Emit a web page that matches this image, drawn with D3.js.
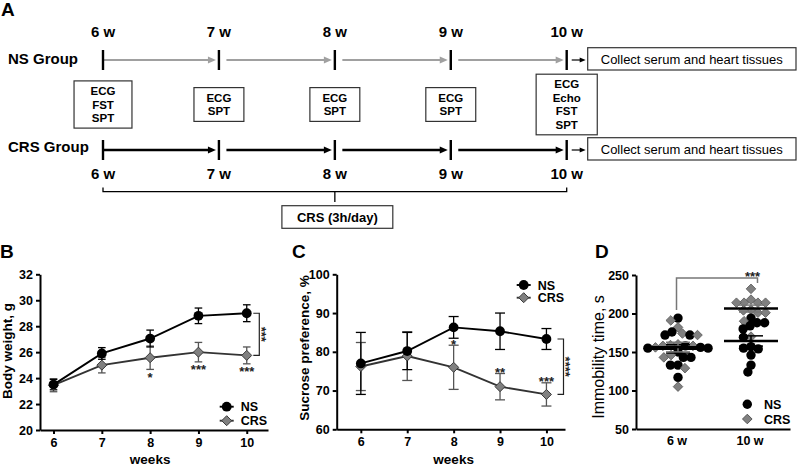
<!DOCTYPE html>
<html><head><meta charset="utf-8">
<script src="https://cdn.jsdelivr.net/npm/d3@7"></script>
<style>
body{margin:0;background:#fff;}
svg{display:block;font-family:"Liberation Sans",Arial,Helvetica,sans-serif;}
</style></head><body>
<svg id="chart" width="800" height="467"></svg>
<script>
// ---------- Panel A: protocol timeline ----------
const timelineWeeks = ["6 w","7 w","8 w","9 w","10 w"];
const groupNames = ["NS Group","CRS Group"];
const weeklyTests = [["ECG","FST","SPT"],["ECG","SPT"],["ECG","SPT"],["ECG","SPT"],["ECG","Echo","FST","SPT"]];
const endpointText = "Collect serum and heart tissues";
const stressText = "CRS (3h/day)";

// ---------- Panel B: body weight ----------
const weeks = [6,7,8,9,10];
const bodyWeightNS = [23.5,25.9,27.05,28.8,29.0];
const bodyWeightNSErr = [0.4,0.45,0.65,0.6,0.65];
const bodyWeightCRS = [23.45,25.0,25.57,26.0,25.75];
const bodyWeightCRSErr = [0.5,0.6,0.9,0.75,0.65];
const bodyWeightStars = ["","","*","***","***"];
const bodyWeightTicks = [20,22,24,26,28,30,32];
const bodyWeightBracket = "***";

// ---------- Panel C: sucrose preference ----------
const sucroseNS = [77.0,80.2,86.3,85.3,83.3];
const sucroseNSErr = [8.0,4.8,2.8,4.7,2.7];
const sucroseCRS = [76.2,78.9,76.0,71.0,69.0];
const sucroseCRSErr = [6.2,6.3,5.7,3.4,3.0];
const sucroseStars = ["","","*","**","***"];
const sucroseTicks = [60,70,80,90,100];
const sucroseBracket = "****";

// ---------- Panel D: immobility time ----------
const fstTimes = ["6 w","10 w"];
const immobilityNS6 = [194,176,172,172,158,156,155,155,150,143,143,133,133,117];
const immobilityCRS6 = [191,182,174,172,160,159,158,158,156,146,143,129,105];
const immobilityNS10 = [194,188,188,184,180,169,157,155,154,146,133,124];
const immobilityCRS10 = [232,218,214,214,214,214,205,204,201,201,190,170];
const immobilityTicks = [50,100,150,200,250];
const immobilityStars = "***";
const seriesNames = ["NS","CRS"];

const svg = d3.select("#chart");
const BOLD = "bold";

function diamondPath(cx, cy, r) {
  return `M${cx},${cy - r}L${cx + r},${cy}L${cx},${cy + r}L${cx - r},${cy}Z`;
}
function panelLabel(txt, x, y) {
  svg.append("text").attr("x", x).attr("y", y).attr("font-size", 19)
    .attr("font-weight", BOLD).text(txt);
}

// ================= PANEL A =================
(function () {
  const A = svg.append("g");
  panelLabel("A", 1, 16);
  const xA = d3.scalePoint().domain(timelineWeeks).range([103, 566.7]);
  const rows = [{name: groupNames[0], y: 60, color: "#a0a0a0", w: 2, labelY: 63.5, wkY: 37},
                {name: groupNames[1], y: 150, color: "#000", w: 2.4, labelY: 152, wkY: 179}];
  rows.forEach(r => {
    A.append("text").attr("x", 8).attr("y", r.labelY).attr("font-size", 15)
      .attr("font-weight", BOLD).text(r.name);
    A.selectAll(null).data(timelineWeeks).join("text")
      .attr("x", d => xA(d)).attr("y", r.wkY).attr("text-anchor", "middle")
      .attr("font-size", 15).attr("font-weight", BOLD).text(d => d);
    for (let i = 0; i < timelineWeeks.length - 1; i++) {
      const x0 = xA(timelineWeeks[i]) + (i === 0 ? 0 : 7.5);
      const x1 = xA(timelineWeeks[i + 1]) - 3;
      A.append("line").attr("x1", x0).attr("x2", x1 - 7).attr("y1", r.y).attr("y2", r.y)
        .attr("stroke", r.color).attr("stroke-width", r.w);
      A.append("path").attr("d", `M${x1},${r.y}L${x1 - 8},${r.y - 3.6}L${x1 - 8},${r.y + 3.6}Z`)
        .attr("fill", r.color);
    }
    A.selectAll(null).data(timelineWeeks).join("line")
      .attr("x1", d => xA(d)).attr("x2", d => xA(d))
      .attr("y1", r.y - 10).attr("y2", r.y + 10)
      .attr("stroke", "#000").attr("stroke-width", 2.4);
    const xe = xA(timelineWeeks[timelineWeeks.length - 1]);
    A.append("line").attr("x1", xe + 5).attr("x2", xe + 14).attr("y1", r.y).attr("y2", r.y)
      .attr("stroke", "#000").attr("stroke-width", 1.2);
    A.append("path").attr("d", `M${xe + 19},${r.y}L${xe + 13},${r.y - 2.6}L${xe + 13},${r.y + 2.6}Z`).attr("fill", "#000");
    A.append("rect").attr("x", 587.7).attr("y", r.y - 12.3).attr("width", 208.3).attr("height", 22.3)
      .attr("fill", "#fff").attr("stroke", "#333").attr("stroke-width", 1.2);
    A.append("text").attr("x", 691.8).attr("y", r.y + 3.6).attr("text-anchor", "middle")
      .attr("font-size", 13).text(endpointText);
  });
  weeklyTests.forEach((lines, i) => {
    const cx = xA(timelineWeeks[i]), cy = 104.5, lh = 13.4;
    const g = A.append("g");
    const t = g.selectAll("text").data(lines).join("text")
      .attr("x", cx).attr("y", (d, j) => cy + (j - (lines.length - 1) / 2) * lh + 4)
      .attr("text-anchor", "middle").attr("font-size", 11.5).attr("font-weight", BOLD).text(d => d);
    let maxW = 0; t.each(function () { maxW = Math.max(maxW, this.getComputedTextLength()); });
    const w = maxW + (lines.length > 2 ? 33 : 25);
    const h = lines.length * lh + 7;
    g.insert("rect", "text").attr("x", cx - w / 2).attr("y", cy - h / 2).attr("width", w).attr("height", h)
      .attr("fill", "#fff").attr("stroke", "#333").attr("stroke-width", 1.2);
  });
  const xs = xA(timelineWeeks[0]), xe = xA(timelineWeeks[4]), xm = xA(timelineWeeks[2]);
  A.append("path").attr("d", `M${xs},187.5V191.7H${xe}V187.5M${xm},191.7V202`)
    .attr("fill", "none").attr("stroke", "#000").attr("stroke-width", 1.3);
  const bg = A.append("g");
  const bt = bg.append("text").attr("x", xm + 2.5).attr("y", 222).attr("text-anchor", "middle")
    .attr("font-size", 13).attr("font-weight", BOLD).text(stressText);
  const bw = bt.node().getComputedTextLength() + 30;
  bg.insert("rect", "text").attr("x", xm + 2.5 - bw / 2).attr("y", 205.7).attr("width", bw).attr("height", 22.6)
    .attr("fill", "#fff").attr("stroke", "#333").attr("stroke-width", 1.2);
})();

// ================= PANELS B & C =================
function linePanel(o) {
  const g = svg.append("g");
  const x = d3.scaleLinear().domain(o.xDom).range(o.xRange);
  const y = d3.scaleLinear().domain(o.yDom).range(o.yRange);
  const xAxis = g.append("g").attr("transform", `translate(0,${o.yRange[0]})`)
    .call(d3.axisBottom(x).tickValues(weeks).tickSize(4).tickSizeOuter(0).tickPadding(o.xPad).tickFormat(d3.format("d")));
  const yAxis = g.append("g").attr("transform", `translate(${o.xRange[0]},0)`)
    .call(d3.axisLeft(y).tickValues(o.yTicks).tickSize(4).tickSizeOuter(0).tickPadding(3));
  [xAxis, yAxis].forEach(a => {
    a.select(".domain").attr("stroke", "#000").attr("stroke-width", 2);
    a.selectAll(".tick line").attr("stroke", "#000").attr("stroke-width", 2);
    a.selectAll(".tick text").attr("font-size", 12.5).attr("font-weight", BOLD).attr("fill", "#000")
      .attr("font-family", "Liberation Sans, Arial, sans-serif");
  });
  g.append("text").attr("transform", `translate(${o.yTitleX},${o.yTitleY}) rotate(-90)`)
    .attr("text-anchor", "middle").attr("font-size", 13.5).attr("font-weight", BOLD).text(o.yTitle);
  g.append("text").attr("x", x(8)).attr("y", 463.5).attr("text-anchor", "middle")
    .attr("font-size", 13.5).attr("font-weight", BOLD).text("weeks");

  const series = [
    {name: seriesNames[1], v: o.crs, e: o.crsErr, col: "#555", line: "#333", type: "d"},
    {name: seriesNames[0], v: o.ns, e: o.nsErr, col: "#000", line: "#000", type: "c"}
  ];
  series.forEach(s => {
    const eb = g.append("g").attr("stroke", s.col).attr("stroke-width", 1.3);
    weeks.forEach((w, i) => {
      const cx = x(w), y1 = y(s.v[i] + s.e[i]), y0 = y(s.v[i] - s.e[i]);
      eb.append("line").attr("x1", cx).attr("x2", cx).attr("y1", y1).attr("y2", y0);
      eb.append("line").attr("x1", cx - o.cap).attr("x2", cx + o.cap).attr("y1", y1).attr("y2", y1);
      eb.append("line").attr("x1", cx - o.cap).attr("x2", cx + o.cap).attr("y1", y0).attr("y2", y0);
    });
  });
  const ln = d3.line().x((d, i) => x(weeks[i])).y(d => y(d));
  series.forEach(s => {
    g.append("path").attr("d", ln(s.v)).attr("fill", "none").attr("stroke", s.line).attr("stroke-width", 1.9);
  });
  series.forEach(s => {
    weeks.forEach((w, i) => {
      if (s.type === "c") g.append("circle").attr("cx", x(w)).attr("cy", y(s.v[i])).attr("r", 4.9).attr("fill", "#000");
      else g.append("path").attr("d", diamondPath(x(w), y(s.v[i]), 5)).attr("fill", "#808080").attr("stroke", "#3a3a3a").attr("stroke-width", 1);
    });
  });
  weeks.forEach((w, i) => {
    if (!o.stars[i]) return;
    const yy = o.starsBelow ? y(o.crs[i] - o.crsErr[i]) + 12.5 : y(o.crs[i] + o.crsErr[i]) + 3.5;
    g.append("text").attr("x", x(w)).attr("y", yy).attr("text-anchor", "middle")
      .attr("font-size", 13).attr("font-weight", BOLD).attr("fill", "#222").text(o.stars[i]);
  });
  const yt = y(o.ns[4]), yb = y(o.crs[4]);
  g.append("path").attr("d", `M${o.brX - 6},${yt}H${o.brX}V${yb}H${o.brX - 6}`)
    .attr("fill", "none").attr("stroke", "#222").attr("stroke-width", 1.2);
  g.append("text").attr("transform", `translate(${o.brX - 2.5},${(yt + yb) / 2}) rotate(90)`)
    .attr("text-anchor", "middle").attr("font-size", 13).attr("font-weight", BOLD).attr("fill", "#222").text(o.brText);
  series.slice().reverse().forEach((s, k) => {
    const ly = o.legY + k * o.legDy;
    g.append("line").attr("x1", o.legX - 7).attr("x2", o.legX + 7).attr("y1", ly).attr("y2", ly)
      .attr("stroke", s.line).attr("stroke-width", 1.9);
    if (s.type === "c") g.append("circle").attr("cx", o.legX).attr("cy", ly).attr("r", 4.9).attr("fill", "#000");
    else g.append("path").attr("d", diamondPath(o.legX, ly, 5)).attr("fill", "#808080").attr("stroke", "#3a3a3a");
    g.append("text").attr("x", o.legX + 14).attr("y", ly + 4.5).attr("font-size", 12.5).attr("font-weight", BOLD).text(s.name);
  });
}

panelLabel("B", 0, 258);
linePanel({
  xDom: [5.72, 10.44], xRange: [40, 268], yDom: [20, 32], yRange: [430, 274.3], yTicks: bodyWeightTicks,
  xPad: 4, ns: bodyWeightNS, nsErr: bodyWeightNSErr, crs: bodyWeightCRS, crsErr: bodyWeightCRSErr,
  stars: bodyWeightStars, starsBelow: true, cap: 3.8, brX: 259.3, brText: bodyWeightBracket,
  yTitle: "Body weight, g", yTitleX: 11.5, yTitleY: 351, legX: 226.7, legY: 406.7, legDy: 14
});
panelLabel("C", 292, 258);
linePanel({
  xDom: [5.48, 10.4], xRange: [336.7, 565], yDom: [60, 100], yRange: [429.3, 274.3], yTicks: sucroseTicks,
  xPad: 3.5, ns: sucroseNS, nsErr: sucroseNSErr, crs: sucroseCRS, crsErr: sucroseCRSErr,
  stars: sucroseStars, starsBelow: false, cap: 5, brX: 563.5, brText: sucroseBracket,
  yTitle: "Sucrose preference, %", yTitleX: 309, yTitleY: 348, legX: 523.7, legY: 285, legDy: 12.7
});

// ================= PANEL D =================
(function () {
  panelLabel("D", 595, 258);
  const g = svg.append("g");
  const x = d3.scalePoint().domain(fstTimes).range([636, 790]).padding(0.555);
  const y = d3.scaleLinear().domain([50, 250]).range([429, 275]);
  const xAxis = g.append("g").attr("transform", "translate(0,429)")
    .call(d3.axisBottom(x).tickSize(0).tickSizeOuter(0).tickPadding(7));
  const yAxis = g.append("g").attr("transform", "translate(636,0)")
    .call(d3.axisLeft(y).tickValues(immobilityTicks).tickSize(4).tickSizeOuter(0).tickPadding(3));
  [xAxis, yAxis].forEach(a => {
    a.select(".domain").attr("stroke", "#000").attr("stroke-width", 2);
    a.selectAll(".tick line").attr("stroke", "#000").attr("stroke-width", 2);
    a.selectAll(".tick text").attr("font-size", 12.5).attr("font-weight", BOLD).attr("fill", "#000")
      .attr("font-family", "Liberation Sans, Arial, sans-serif");
  });
  g.append("text").attr("transform", "translate(604,357) rotate(-90)").attr("text-anchor", "middle")
    .attr("font-size", 16).text("Immobility time, s");

  const groups = [
    {t: fstTimes[0], sets: [{type: "c", v: immobilityNS6}, {type: "d", v: immobilityCRS6}]},
    {t: fstTimes[1], sets: [{type: "c", v: immobilityNS10}, {type: "d", v: immobilityCRS10}]}
  ];
  const diam = 7.6;
  groups.forEach(gr => {
    const cx = x(gr.t) + 1.5;
    let pts = [];
    gr.sets.forEach(s => s.v.forEach(v => pts.push({type: s.type, v, py: y(v)})));
    pts.sort((a, b) => d3.descending(a.v, b.v));
    const placed = [];
    pts.forEach(p => {
      const blocked = [];
      placed.forEach(q => {
        const dy = Math.abs(q.py - p.py);
        if (dy < diam) { const h = Math.sqrt(diam * diam - dy * dy); blocked.push([q.dx - h, q.dx + h]); }
      });
      const cands = [0];
      blocked.forEach(b => cands.push(b[0], b[1]));
      cands.sort((a, b) => Math.abs(a) - Math.abs(b));
      p.dx = cands.find(c => blocked.every(b => c <= b[0] + 1e-6 || c >= b[1] - 1e-6));
      placed.push(p);
    });
    placed.forEach(p => {
      if (p.type === "c") g.append("circle").attr("cx", cx + p.dx).attr("cy", p.py).attr("r", 4.7).attr("fill", "#000");
      else g.append("path").attr("d", diamondPath(cx + p.dx, p.py, 4.8)).attr("fill", "#808080").attr("stroke", "#555").attr("stroke-width", 0.8);
    });
    gr.sets.forEach(s => {
      const m = d3.mean(s.v), se = d3.deviation(s.v) / Math.sqrt(s.v.length);
      const ec = s.type === "c" ? "#000" : "#777";
      g.append("line").attr("x1", cx).attr("x2", cx).attr("y1", y(m + se)).attr("y2", y(m - se)).attr("stroke", ec).attr("stroke-width", 1.5);
      [m + se, m - se].forEach(v => g.append("line").attr("x1", cx - 12).attr("x2", cx + 12).attr("y1", y(v)).attr("y2", y(v)).attr("stroke", ec).attr("stroke-width", 1.5));
      g.append("line").attr("x1", cx - 27).attr("x2", cx + 27).attr("y1", y(m)).attr("y2", y(m)).attr("stroke", "#000").attr("stroke-width", 2.4);
    });
  });
  const x0 = x(fstTimes[0]), x1 = x(fstTimes[1]);
  g.append("path").attr("d", `M${x0},310V278H${x1 + 8}V283`).attr("fill", "none").attr("stroke", "#777").attr("stroke-width", 1.5);
  g.append("text").attr("x", x1 + 3).attr("y", 281).attr("text-anchor", "middle").attr("font-size", 13)
    .attr("font-weight", BOLD).attr("fill", "#222").text(immobilityStars);
  seriesNames.forEach((n, k) => {
    const ly = 404.3 + k * 14.7;
    if (k === 0) g.append("circle").attr("cx", 747.3).attr("cy", ly).attr("r", 4.7).attr("fill", "#000");
    else g.append("path").attr("d", diamondPath(747.3, ly, 4.8)).attr("fill", "#808080").attr("stroke", "#555");
    g.append("text").attr("x", 764).attr("y", ly + 4.5).attr("font-size", 12.5).attr("font-weight", BOLD).text(n);
  });
})();
</script>
</body></html>
